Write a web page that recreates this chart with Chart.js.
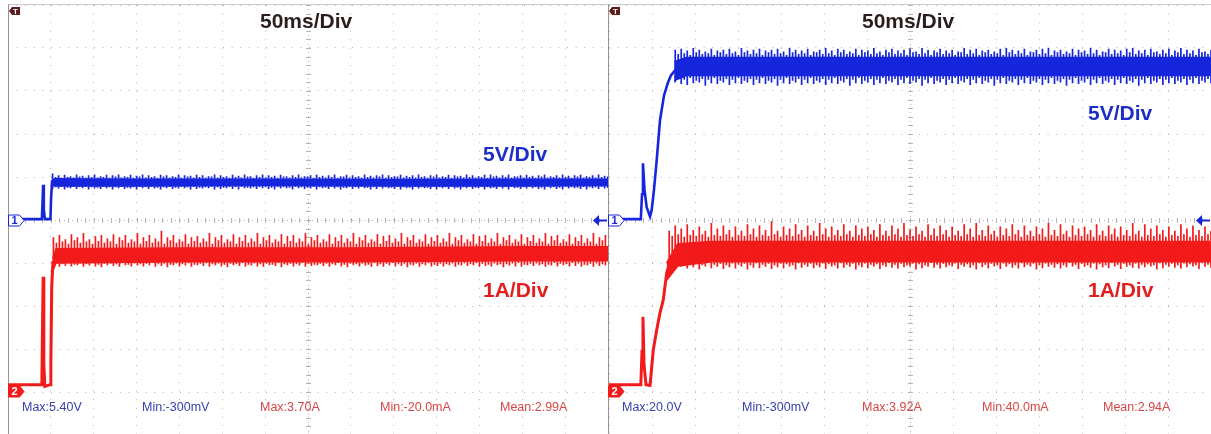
<!DOCTYPE html>
<html lang="en">
<head>
<meta charset="UTF-8">
<title>Power-up waveforms, 50ms/Div</title>
<script src="https://cdn.jsdelivr.net/npm/chart.js@4.4.1/dist/chart.umd.min.js"></script>
<style>
  html, body { margin: 0; padding: 0; background: #fff; }
  #wrap { position: relative; width: 1211px; height: 434px; overflow: hidden; }
  canvas { position: absolute; top: 0; }
  .lbl { position: absolute; white-space: nowrap; line-height: 1; font-family: 'Liberation Sans', Arial, sans-serif; }
  .big { font-size: 21px; font-weight: bold; }
  .meas { font-size: 12.5px; top: 401px; }
  .dark { color: #2b1d1d; }
  .blue { color: #1c2ec8; }
  .red { color: #e41e1e; }
  .mblue { color: #3642ae; }
  .mred { color: #d64646; }
</style>
</head>
<body>
<div id="wrap">
  <canvas id="scopeLeft" width="608" height="436" style="left:0"></canvas>
  <canvas id="scopeRight" width="603" height="436" style="left:608px"></canvas>

  <div class="lbl big dark" style="left:260px; top:9.5px">50ms/Div</div>
  <div class="lbl big blue" style="left:483px; top:143px">5V/Div</div>
  <div class="lbl big red" style="left:483px; top:279px">1A/Div</div>
  <div class="lbl meas mblue" style="left:22px">Max:5.40V</div>
  <div class="lbl meas mblue" style="left:142px">Min:-300mV</div>
  <div class="lbl meas mred" style="left:260px">Max:3.70A</div>
  <div class="lbl meas mred" style="left:380px">Min:-20.0mA</div>
  <div class="lbl meas mred" style="left:500px">Mean:2.99A</div>

  <div class="lbl big dark" style="left:862px; top:9.5px">50ms/Div</div>
  <div class="lbl big blue" style="left:1088px; top:102px">5V/Div</div>
  <div class="lbl big red" style="left:1088px; top:279px">1A/Div</div>
  <div class="lbl meas mblue" style="left:622px">Max:20.0V</div>
  <div class="lbl meas mblue" style="left:742px">Min:-300mV</div>
  <div class="lbl meas mred" style="left:862px">Max:3.92A</div>
  <div class="lbl meas mred" style="left:982px">Min:40.0mA</div>
  <div class="lbl meas mred" style="left:1103px">Mean:2.94A</div>
</div>

<script>
  // ------------------------------------------------------------------ data

  const TIME_MAX = 700            // 14 div x 50 ms
  const RIPPLE_STEP = 3.5         // ms between ripple spikes
  const VOLT_RANGE = [-25, 25]    // 5 V/div, 10 div
  const AMP_RANGE = [-1.05, 8.95] // 1 A/div

  // left capture, CH1 volts
  const leftVoltLeadT = [0, 39.5, 40.3, 41, 41.8, 43, 49.5, 50.3, 51.5]
  const leftVoltLead = [0.1, 0.1, 2.0, 4.1, 1.2, 0.1, 0.1, 2.6, 4.6]
  const leftVoltCoreT = [51.5, 56, 150, 300, 450, 600, 700]
  const leftVoltCoreTop = [4.7, 4.8, 4.75, 4.75, 4.7, 4.75, 4.75]
  const leftVoltCoreBot = [4.0, 3.95, 3.95, 4.0, 3.95, 3.95, 4.0]
  const leftVoltRippleStart = 52
  const leftVoltHi = [
    5.4, 5.0, 5.2, 4.9, 5.25, 5.0, 5.1, 4.95, 5.3, 5.05,
    5.15, 4.9, 5.2, 5.0, 5.3, 4.95, 5.1, 5.0, 5.25, 4.9,
    5.2, 5.05, 5.3, 4.95, 5.1, 5.0, 5.25, 4.9, 5.15, 5.05,
    5.3, 4.95, 5.2, 5.0, 5.1, 4.9, 5.25, 5.05, 5.2, 4.95,
    5.1, 5.0, 5.3, 4.9, 5.2, 5.05, 5.15, 4.95, 5.25, 5.0,
    5.2, 4.9, 5.1, 5.05, 5.3, 4.95, 5.2, 5.0, 5.1, 4.9,
    5.25, 5.0, 5.15, 4.95, 5.3, 5.05, 5.1, 4.9, 5.2, 5.0,
    5.3, 4.95, 5.2, 5.0, 5.15, 4.9, 5.25, 5.05, 5.1, 4.95,
    5.2, 5.0, 5.3, 4.95, 5.1, 5.05, 5.2, 4.9, 5.25, 5.0,
    5.15, 4.95, 5.2, 5.0, 5.3, 4.9, 5.1, 5.05, 5.25, 4.95,
    5.2, 5.0, 5.1, 4.9, 5.3, 5.0, 5.15, 4.95, 5.2, 5.05,
    5.3, 4.9, 5.2, 5.0, 5.1, 5.05, 5.25, 4.95, 5.15, 5.0,
    5.2, 4.95, 5.3, 5.0, 5.1, 4.9, 5.2, 5.05, 5.3, 4.95,
    5.1, 5.0, 5.25, 4.9, 5.2, 5.05, 5.15, 4.95, 5.3, 5.0,
    5.2, 4.95, 5.1, 5.0, 5.25, 4.9, 5.3, 5.05, 5.15, 4.95,
    5.2, 5.0, 5.3, 4.95, 5.1, 5.05, 5.2, 4.9, 5.25, 5.0,
    5.15, 4.9, 5.2, 5.05, 5.3, 4.95, 5.1, 5.0, 5.2, 4.95,
    5.3, 5.0, 5.15, 4.9, 5.2, 5.05, 5.25, 4.95, 5.1, 5.0,
    5.2, 4.95, 5.3, 5.0, 5.15, 5.05]
  const leftVoltLo = [
    3.6, 3.8, 3.65, 3.85, 3.55, 3.75, 3.7, 3.85, 3.6, 3.8,
    3.7, 3.85, 3.55, 3.8, 3.65, 3.75, 3.6, 3.85, 3.7, 3.8,
    3.55, 3.8, 3.7, 3.85, 3.6, 3.75, 3.65, 3.8, 3.55, 3.85,
    3.7, 3.8, 3.6, 3.85, 3.65, 3.75, 3.55, 3.8, 3.7, 3.85,
    3.6, 3.75, 3.65, 3.85, 3.7, 3.8, 3.55, 3.85, 3.6, 3.75,
    3.65, 3.8, 3.7, 3.85, 3.55, 3.8, 3.6, 3.75, 3.7, 3.85,
    3.6, 3.8, 3.55, 3.85, 3.7, 3.75, 3.65, 3.8, 3.6, 3.85,
    3.7, 3.8, 3.6, 3.75, 3.55, 3.85, 3.65, 3.8, 3.7, 3.75,
    3.55, 3.85, 3.7, 3.8, 3.6, 3.75, 3.65, 3.85, 3.55, 3.8,
    3.7, 3.75, 3.6, 3.85, 3.65, 3.8, 3.55, 3.75, 3.7, 3.85,
    3.6, 3.8, 3.65, 3.85, 3.7, 3.75, 3.55, 3.8, 3.6, 3.85,
    3.65, 3.8, 3.7, 3.75, 3.6, 3.85, 3.55, 3.8, 3.7, 3.75,
    3.55, 3.85, 3.65, 3.8, 3.7, 3.75, 3.6, 3.85, 3.55, 3.8,
    3.7, 3.8, 3.6, 3.85, 3.65, 3.75, 3.55, 3.8, 3.7, 3.85,
    3.6, 3.75, 3.7, 3.85, 3.55, 3.8, 3.65, 3.75, 3.6, 3.85,
    3.65, 3.8, 3.55, 3.85, 3.7, 3.75, 3.6, 3.8, 3.65, 3.85,
    3.7, 3.8, 3.6, 3.75, 3.55, 3.85, 3.7, 3.8, 3.6, 3.75,
    3.55, 3.85, 3.65, 3.8, 3.7, 3.75, 3.6, 3.85, 3.55, 3.8,
    3.7, 3.8, 3.6, 3.85, 3.65, 3.75]

  // left capture, CH2 amps
  const leftAmpLeadT = [0, 39.5, 40.3, 41, 41.8, 43, 49, 50, 51, 52.5]
  const leftAmpLead = [0.12, 0.12, 1.5, 2.63, 0.6, 0.08, 0.12, 0.6, 2.4, 3.0]
  const leftAmpCoreT = [52, 56, 200, 400, 600, 700]
  const leftAmpCoreTop = [3.05, 3.28, 3.3, 3.3, 3.33, 3.33]
  const leftAmpCoreBot = [2.75, 2.95, 2.98, 2.98, 3.0, 3.0]
  const leftAmpRippleStart = 53
  const leftAmpHi = [
    3.55, 3.42, 3.6, 3.45, 3.5, 3.4, 3.62, 3.48, 3.55, 3.42,
    3.65, 3.45, 3.5, 3.4, 3.58, 3.46, 3.6, 3.42, 3.52, 3.45,
    3.62, 3.4, 3.55, 3.48, 3.6, 3.42, 3.5, 3.45, 3.65, 3.4,
    3.55, 3.46, 3.6, 3.42, 3.52, 3.45, 3.7, 3.4, 3.55, 3.48,
    3.6, 3.42, 3.5, 3.45, 3.62, 3.4, 3.55, 3.46, 3.58, 3.42,
    3.52, 3.45, 3.65, 3.4, 3.55, 3.48, 3.6, 3.42, 3.5, 3.45,
    3.62, 3.4, 3.55, 3.46, 3.6, 3.42, 3.52, 3.45, 3.65, 3.4,
    3.55, 3.48, 3.6, 3.42, 3.5, 3.45, 3.62, 3.4, 3.58, 3.46,
    3.6, 3.42, 3.52, 3.45, 3.65, 3.4, 3.55, 3.48, 3.6, 3.42,
    3.5, 3.45, 3.62, 3.4, 3.55, 3.46, 3.6, 3.42, 3.52, 3.45,
    3.65, 3.4, 3.55, 3.48, 3.6, 3.42, 3.5, 3.45, 3.62, 3.4,
    3.58, 3.46, 3.6, 3.42, 3.52, 3.45, 3.65, 3.4, 3.55, 3.48,
    3.6, 3.42, 3.5, 3.45, 3.62, 3.4, 3.55, 3.46, 3.6, 3.42,
    3.52, 3.45, 3.65, 3.4, 3.55, 3.48, 3.6, 3.42, 3.5, 3.45,
    3.62, 3.4, 3.58, 3.46, 3.6, 3.42, 3.52, 3.45, 3.65, 3.4,
    3.55, 3.48, 3.6, 3.42, 3.5, 3.45, 3.62, 3.4, 3.55, 3.46,
    3.6, 3.42, 3.52, 3.45, 3.65, 3.4, 3.58, 3.48, 3.6, 3.42,
    3.5, 3.45, 3.62, 3.4, 3.55, 3.46, 3.6, 3.42, 3.52, 3.45,
    3.65, 3.4, 3.55, 3.48, 3.6, 3.42]
  const leftAmpLo = [
    2.9, 2.94, 2.86, 2.92, 2.88, 2.95, 2.87, 2.91, 2.9, 2.94,
    2.86, 2.92, 2.89, 2.95, 2.87, 2.91, 2.85, 2.93, 2.9, 2.94,
    2.88, 2.92, 2.86, 2.95, 2.9, 2.91, 2.87, 2.94, 2.89, 2.92,
    2.87, 2.93, 2.9, 2.95, 2.86, 2.92, 2.88, 2.94, 2.85, 2.91,
    2.9, 2.94, 2.87, 2.92, 2.89, 2.95, 2.86, 2.91, 2.9, 2.93,
    2.88, 2.95, 2.86, 2.92, 2.9, 2.94, 2.87, 2.91, 2.85, 2.93,
    2.9, 2.92, 2.88, 2.95, 2.86, 2.91, 2.89, 2.94, 2.87, 2.92,
    2.86, 2.94, 2.9, 2.91, 2.88, 2.95, 2.85, 2.92, 2.9, 2.93,
    2.87, 2.92, 2.89, 2.95, 2.86, 2.94, 2.88, 2.91, 2.9, 2.93,
    2.88, 2.94, 2.86, 2.92, 2.9, 2.95, 2.87, 2.91, 2.85, 2.93,
    2.9, 2.92, 2.87, 2.94, 2.89, 2.91, 2.86, 2.95, 2.88, 2.92,
    2.86, 2.93, 2.9, 2.95, 2.87, 2.92, 2.88, 2.94, 2.85, 2.91,
    2.89, 2.94, 2.86, 2.92, 2.9, 2.95, 2.87, 2.91, 2.88, 2.93,
    2.87, 2.92, 2.9, 2.94, 2.86, 2.91, 2.89, 2.95, 2.88, 2.92,
    2.9, 2.95, 2.86, 2.93, 2.88, 2.91, 2.87, 2.94, 2.9, 2.92,
    2.85, 2.92, 2.89, 2.94, 2.87, 2.95, 2.86, 2.91, 2.9, 2.93,
    2.88, 2.94, 2.9, 2.92, 2.86, 2.91, 2.89, 2.95, 2.87, 2.93,
    2.9, 2.92, 2.87, 2.95, 2.88, 2.94, 2.86, 2.91, 2.9, 2.93,
    2.86, 2.94, 2.88, 2.92, 2.9, 2.95]

  // right capture, CH1 volts
  const rightVoltLeadT = [0, 37, 38.4, 39.5, 41.3, 43.8, 47.7, 49.7, 52.3, 55.5, 59.3, 64, 68.6, 72, 76.7, 82]
  const rightVoltLead = [0.1, 0.1, 3.0, 6.6, 3.5, 1.5, 0.4, 1.2, 3.5, 7.0, 11.6, 14.5, 16.0, 16.8, 17.4, 17.8]
  const rightVoltCoreT = [76, 90, 300, 500, 700]
  const rightVoltCoreTop = [18.4, 18.9, 18.9, 18.9, 18.9]
  const rightVoltCoreBot = [16.2, 16.8, 16.8, 16.8, 16.8]
  const rightVoltRippleStart = 77
  const rightVoltHi = [
    19.8, 19.3, 19.9, 19.4, 19.7, 19.2, 20.0, 19.5, 19.8, 19.3,
    19.6, 19.4, 19.9, 19.2, 19.7, 19.5, 19.8, 19.3, 19.9, 19.4,
    19.6, 19.2, 20.0, 19.5, 19.7, 19.3, 19.8, 19.4, 19.9, 19.2,
    19.7, 19.5, 19.8, 19.3, 19.9, 19.4, 19.6, 19.2, 20.0, 19.5,
    19.8, 19.3, 19.7, 19.4, 19.9, 19.2, 19.6, 19.5, 19.8, 19.3,
    20.0, 19.4, 19.7, 19.2, 19.9, 19.5, 19.8, 19.3, 19.6, 19.4,
    19.9, 19.2, 19.8, 19.5, 19.7, 19.3, 20.0, 19.4, 19.6, 19.2,
    19.8, 19.5, 19.9, 19.3, 19.7, 19.4, 19.8, 19.2, 19.9, 19.5,
    19.6, 19.3, 20.0, 19.4, 19.8, 19.2, 19.7, 19.5, 19.9, 19.3,
    19.7, 19.4, 19.8, 19.2, 19.6, 19.5, 20.0, 19.3, 19.8, 19.4,
    19.9, 19.2, 19.7, 19.5, 19.8, 19.3, 19.6, 19.4, 19.9, 19.2,
    20.0, 19.5, 19.8, 19.3, 19.7, 19.4, 19.9, 19.2, 19.6, 19.5,
    19.8, 19.3, 19.9, 19.4, 20.0, 19.2, 19.7, 19.5, 19.8, 19.3,
    19.6, 19.4, 19.9, 19.2, 19.8, 19.5, 19.7, 19.3, 20.0, 19.4,
    19.8, 19.2, 19.6, 19.5, 19.9, 19.3, 19.8, 19.4, 19.7, 19.2,
    19.9, 19.5, 20.0, 19.3, 19.7, 19.4, 19.8, 19.2, 19.9, 19.5,
    19.6, 19.3, 19.8, 19.4, 19.9, 19.2, 19.7, 19.5, 20.0, 19.3,
    19.8, 19.4, 19.7, 19.2, 19.9, 19.5, 19.6, 19.3, 19.8]
  const rightVoltLo = [
    16.0, 16.4, 15.8, 16.3, 15.7, 16.5, 15.9, 16.2, 16.0, 16.4,
    15.6, 16.3, 15.9, 16.5, 15.8, 16.2, 16.0, 16.4, 15.7, 16.3,
    15.9, 16.5, 15.8, 16.2, 16.0, 16.4, 15.7, 16.3, 15.9, 16.5,
    15.8, 16.2, 16.0, 16.4, 15.6, 16.3, 15.9, 16.5, 15.8, 16.2,
    16.0, 16.4, 15.7, 16.3, 15.9, 16.5, 15.8, 16.2, 16.0, 16.4,
    15.7, 16.3, 15.9, 16.5, 15.8, 16.2, 16.0, 16.4, 15.6, 16.3,
    15.9, 16.5, 15.8, 16.2, 16.0, 16.4, 15.7, 16.3, 15.9, 16.5,
    15.8, 16.2, 16.0, 16.4, 15.7, 16.3, 15.9, 16.5, 15.8, 16.2,
    16.0, 16.4, 15.6, 16.3, 15.9, 16.5, 15.8, 16.2, 16.0, 16.4,
    15.7, 16.3, 15.9, 16.5, 15.8, 16.2, 16.0, 16.4, 15.7, 16.3,
    15.9, 16.5, 15.8, 16.2, 16.0, 16.4, 15.6, 16.3, 15.9, 16.5,
    15.8, 16.2, 16.0, 16.4, 15.7, 16.3, 15.9, 16.5, 15.8, 16.2,
    16.0, 16.4, 15.7, 16.3, 15.9, 16.5, 15.8, 16.2, 16.0, 16.4,
    15.6, 16.3, 15.9, 16.5, 15.8, 16.2, 16.0, 16.4, 15.7, 16.3,
    15.9, 16.5, 15.8, 16.2, 16.0, 16.4, 15.7, 16.3, 15.9, 16.5,
    15.8, 16.2, 16.0, 16.4, 15.6, 16.3, 15.9, 16.5, 15.8, 16.2,
    16.0, 16.4, 15.7, 16.3, 15.9, 16.5, 15.8, 16.2, 16.0, 16.4,
    15.7, 16.3, 15.9, 16.5, 15.8, 16.2, 16.0, 16.4, 15.9]

  // right capture, CH2 amps
  const rightAmpLeadT = [0, 37, 38.4, 39.5, 40.7, 43, 47.7, 49.7, 51.5, 55.5, 59.3, 63.1, 67.1, 72.9]
  const rightAmpLead = [0.12, 0.12, 0.9, 1.7, 0.6, 0.12, 0.1, 0.54, 0.93, 1.4, 1.79, 2.09, 2.72, 3.1]
  const rightAmpCoreT = [67, 80, 120, 700]
  const rightAmpCoreTop = [2.95, 3.4, 3.45, 3.45]
  const rightAmpCoreBot = [2.55, 2.88, 2.98, 2.98]
  const rightAmpRippleStart = 70
  const rightAmpHi = [
    3.7, 3.58, 3.82, 3.62, 3.75, 3.56, 3.85, 3.6, 3.72, 3.58,
    3.8, 3.62, 3.7, 3.56, 3.88, 3.6, 3.75, 3.58, 3.82, 3.62,
    3.72, 3.56, 3.8, 3.6, 3.7, 3.58, 3.85, 3.62, 3.75, 3.56,
    3.82, 3.6, 3.72, 3.58, 3.92, 3.62, 3.7, 3.56, 3.8, 3.6,
    3.75, 3.58, 3.85, 3.62, 3.72, 3.56, 3.82, 3.6, 3.7, 3.58,
    3.88, 3.62, 3.75, 3.56, 3.8, 3.6, 3.72, 3.58, 3.85, 3.62,
    3.7, 3.56, 3.82, 3.6, 3.75, 3.58, 3.8, 3.62, 3.72, 3.56,
    3.85, 3.6, 3.7, 3.58, 3.82, 3.62, 3.75, 3.56, 3.88, 3.6,
    3.72, 3.58, 3.8, 3.62, 3.7, 3.56, 3.85, 3.6, 3.75, 3.58,
    3.82, 3.62, 3.72, 3.56, 3.8, 3.6, 3.7, 3.58, 3.85, 3.62,
    3.75, 3.56, 3.88, 3.6, 3.72, 3.58, 3.82, 3.62, 3.7, 3.56,
    3.8, 3.6, 3.75, 3.58, 3.85, 3.62, 3.72, 3.56, 3.82, 3.6,
    3.7, 3.58, 3.8, 3.62, 3.75, 3.56, 3.88, 3.6, 3.72, 3.58,
    3.85, 3.62, 3.7, 3.56, 3.82, 3.6, 3.75, 3.58, 3.8, 3.62,
    3.72, 3.56, 3.85, 3.6, 3.7, 3.58, 3.82, 3.62, 3.75, 3.56,
    3.8, 3.6, 3.72, 3.58, 3.88, 3.62, 3.7, 3.56, 3.85, 3.6,
    3.75, 3.58, 3.82, 3.62, 3.72, 3.56, 3.8, 3.6, 3.7, 3.58,
    3.85, 3.62, 3.75, 3.56, 3.82, 3.6, 3.72, 3.58, 3.8, 3.62,
    3.7]
  const rightAmpLo = [
    2.84, 2.92, 2.8, 2.9, 2.86, 2.94, 2.82, 2.91, 2.85, 2.93,
    2.8, 2.9, 2.87, 2.95, 2.83, 2.91, 2.86, 2.93, 2.81, 2.9,
    2.85, 2.94, 2.82, 2.91, 2.87, 2.93, 2.8, 2.9, 2.84, 2.95,
    2.83, 2.91, 2.86, 2.93, 2.81, 2.9, 2.85, 2.94, 2.82, 2.92,
    2.87, 2.9, 2.8, 2.95, 2.84, 2.91, 2.86, 2.93, 2.83, 2.9,
    2.85, 2.94, 2.81, 2.92, 2.87, 2.9, 2.82, 2.95, 2.84, 2.91,
    2.86, 2.93, 2.8, 2.9, 2.85, 2.94, 2.83, 2.91, 2.87, 2.92,
    2.81, 2.9, 2.86, 2.95, 2.84, 2.91, 2.82, 2.93, 2.85, 2.9,
    2.87, 2.94, 2.8, 2.92, 2.83, 2.9, 2.86, 2.95, 2.84, 2.91,
    2.82, 2.93, 2.85, 2.9, 2.87, 2.94, 2.81, 2.91, 2.86, 2.92,
    2.84, 2.9, 2.8, 2.95, 2.85, 2.91, 2.83, 2.93, 2.87, 2.9,
    2.81, 2.94, 2.86, 2.92, 2.84, 2.9, 2.82, 2.95, 2.85, 2.91,
    2.87, 2.93, 2.8, 2.9, 2.83, 2.94, 2.86, 2.91, 2.84, 2.92,
    2.82, 2.9, 2.85, 2.95, 2.87, 2.91, 2.81, 2.93, 2.86, 2.9,
    2.84, 2.94, 2.8, 2.92, 2.85, 2.9, 2.83, 2.95, 2.87, 2.91,
    2.81, 2.93, 2.86, 2.9, 2.84, 2.94, 2.82, 2.91, 2.85, 2.92,
    2.87, 2.9, 2.8, 2.95, 2.83, 2.91, 2.86, 2.93, 2.84, 2.9,
    2.82, 2.94, 2.85, 2.92, 2.87, 2.9, 2.81, 2.95, 2.86, 2.91,
    2.84]

  // ---------------------------------------------------------------- styles

  const CH1 = '#1626dc'
  const CH2 = '#f21a1a'
  const GRID = '#bcb2b2'

  // ------------------------------------------------------------- datasets

  var pairUp = function (t, v) {
    return t.map(function (x, i) { return { x: x, y: v[i] } })
  }

  var leadSet = function (t, v, axis, color, width) {
    return { data: pairUp(t, v), yAxisID: axis, borderColor: color, borderWidth: width, fill: false }
  }

  var coreSets = function (t, top, bot, axis, color) {
    return [
      { data: pairUp(t, top), yAxisID: axis, borderColor: color, borderWidth: 1.5, fill: false },
      { data: pairUp(t, bot), yAxisID: axis, borderColor: color, borderWidth: 1.5, fill: '-1', backgroundColor: color }
    ]
  }

  // every spike is a short vertical stroke from its low to its high value
  var rippleSet = function (start, hi, lo, axis, color) {
    var pts = []
    hi.forEach(function (h, i) {
      var x = start + i * RIPPLE_STEP
      pts.push({ x: x, y: lo[i] }, { x: x, y: h }, { x: x, y: null })
    })
    return { data: pts, yAxisID: axis, borderColor: color, borderWidth: 1.7, fill: false, spanGaps: false }
  }

  var divTicks = function (from, to, step) {
    var out = []
    for (var v = from; v <= to + 1e-9; v += step) out.push({ value: v })
    return out
  }

  // -------------------------------------------------------------- overlay

  var channelTag = function (ctx, x, y, label, color, solid) {
    ctx.beginPath()
    ctx.moveTo(x + 0.5, y - 5.5)
    ctx.lineTo(x + 11.5, y - 5.5)
    ctx.lineTo(x + 16, y)
    ctx.lineTo(x + 11.5, y + 5.5)
    ctx.lineTo(x + 0.5, y + 5.5)
    ctx.closePath()
    ctx.fillStyle = solid ? color : '#fff'
    ctx.fill()
    ctx.lineWidth = 1
    ctx.strokeStyle = color
    ctx.stroke()
    ctx.fillStyle = solid ? '#fff' : color
    ctx.font = 'bold 11px "Liberation Sans", Arial, sans-serif'
    ctx.textAlign = 'center'
    ctx.textBaseline = 'middle'
    ctx.fillText(label, x + 6.5, y + 0.5)
  }

  const scopeDecor = {
    id: 'scopeDecor',
    beforeDatasetsDraw: function (chart, args, o) {
      var ctx = chart.ctx
      var a = chart.chartArea
      var sx = chart.scales.x
      var sv = chart.scales.yV
      var cx = Math.round(sx.getPixelForValue(TIME_MAX / 2))
      var cy = Math.round(sv.getPixelForValue(0))
      var subX = (sx.getPixelForValue(50) - sx.getPixelForValue(0)) / 5
      var subY = (sv.getPixelForValue(0) - sv.getPixelForValue(5)) / 5
      ctx.save()
      ctx.fillStyle = GRID
      // centre axes: finer dots with small ticks at each fifth of a division
      for (var x = a.left; x <= a.right; x += subX / 2) ctx.fillRect(Math.round(x), cy, 1, 1)
      for (var i = 0; x = a.left + i * subX, x <= a.right; i++) ctx.fillRect(Math.round(x), cy - 2, 1, 5)
      for (var y = a.top; y <= a.bottom; y += subY / 2) ctx.fillRect(cx, Math.round(y), 1, 1)
      for (var j = 0; y = a.top + j * subY, y <= a.bottom; j++) ctx.fillRect(cx - 2, Math.round(y), 5, 1)
      // frame
      ctx.fillStyle = '#d2caca'
      ctx.fillRect(o.edgeX, 4, a.right - o.edgeX, 1)
      ctx.fillStyle = '#9c9090'
      ctx.fillRect(o.edgeX, 4, 1, chart.height)
      ctx.restore()
    },
    afterDatasetsDraw: function (chart, args, o) {
      var ctx = chart.ctx
      var a = chart.chartArea
      var yv = Math.round(chart.scales.yV.getPixelForValue(0))
      var ya = Math.round(chart.scales.yA.getPixelForValue(0))
      var l = o.edgeX
      ctx.save()
      channelTag(ctx, l, yv + 0.5, '1', CH1, false)
      channelTag(ctx, l, ya + 1.5, '2', CH2, true)
      // trigger level arrow on the right edge
      ctx.fillStyle = CH1
      ctx.beginPath()
      ctx.moveTo(a.right - 15, yv + 0.5)
      ctx.lineTo(a.right - 9, yv - 5)
      ctx.lineTo(a.right - 9, yv + 6)
      ctx.closePath()
      ctx.fill()
      ctx.fillRect(a.right - 9, yv - 0.5, 8, 2)
      // trigger position tag
      ctx.fillStyle = '#5a1c1c'
      ctx.beginPath()
      ctx.moveTo(l + 1, 11)
      ctx.lineTo(l + 4, 7)
      ctx.lineTo(l + 12, 7)
      ctx.lineTo(l + 12, 15)
      ctx.lineTo(l + 4, 15)
      ctx.closePath()
      ctx.fill()
      ctx.fillStyle = '#fff'
      ctx.font = 'bold 8px "Liberation Sans", Arial, sans-serif'
      ctx.textAlign = 'center'
      ctx.textBaseline = 'middle'
      ctx.fillText('T', l + 7.5, 11.5)
      ctx.restore()
    }
  }

  // ---------------------------------------------------------------- charts

  var makeScope = function (id, pad, edgeX, datasets) {
    return new Chart(document.getElementById(id), {
      type: 'line',
      data: { datasets: datasets },
      plugins: [scopeDecor],
      options: {
        responsive: false,
        animation: false,
        events: [],
        layout: { padding: pad },
        elements: { point: { radius: 0 }, line: { tension: 0, borderCapStyle: 'butt' } },
        plugins: {
          legend: { display: false },
          tooltip: { enabled: false },
          scopeDecor: { edgeX: edgeX }
        },
        scales: {
          x: {
            type: 'linear', min: 0, max: TIME_MAX,
            afterBuildTicks: function (s) { s.ticks = divTicks(0, TIME_MAX, 50) },
            ticks: { display: false },
            grid: { color: GRID, drawTicks: false },
            border: { display: false, dash: [1, 7.57] }
          },
          yV: {
            type: 'linear', position: 'left', min: VOLT_RANGE[0], max: VOLT_RANGE[1],
            afterBuildTicks: function (s) { s.ticks = divTicks(VOLT_RANGE[0], VOLT_RANGE[1], 5) },
            ticks: { display: false },
            grid: { color: GRID, drawTicks: false },
            border: { display: false, dash: [1, 7.6] }
          },
          yA: { type: 'linear', display: false, min: AMP_RANGE[0], max: AMP_RANGE[1] }
        }
      }
    })
  }

  makeScope('scopeLeft', { left: 8, top: 5, right: 0, bottom: 1 }, 8, [
    rippleSet(leftVoltRippleStart, leftVoltHi, leftVoltLo, 'yV', CH1),
    ...coreSets(leftVoltCoreT, leftVoltCoreTop, leftVoltCoreBot, 'yV', CH1),
    leadSet(leftVoltLeadT, leftVoltLead, 'yV', CH1, 2.6),
    rippleSet(leftAmpRippleStart, leftAmpHi, leftAmpLo, 'yA', CH2),
    ...coreSets(leftAmpCoreT, leftAmpCoreTop, leftAmpCoreBot, 'yA', CH2),
    leadSet(leftAmpLeadT, leftAmpLead, 'yA', CH2, 3)
  ])

  makeScope('scopeRight', { left: 1, top: 5, right: 0, bottom: 1 }, 0, [
    rippleSet(rightVoltRippleStart, rightVoltHi, rightVoltLo, 'yV', CH1),
    ...coreSets(rightVoltCoreT, rightVoltCoreTop, rightVoltCoreBot, 'yV', CH1),
    leadSet(rightVoltLeadT, rightVoltLead, 'yV', CH1, 2.6),
    rippleSet(rightAmpRippleStart, rightAmpHi, rightAmpLo, 'yA', CH2),
    ...coreSets(rightAmpCoreT, rightAmpCoreTop, rightAmpCoreBot, 'yA', CH2),
    leadSet(rightAmpLeadT, rightAmpLead, 'yA', CH2, 3)
  ])
</script>
</body>
</html>
